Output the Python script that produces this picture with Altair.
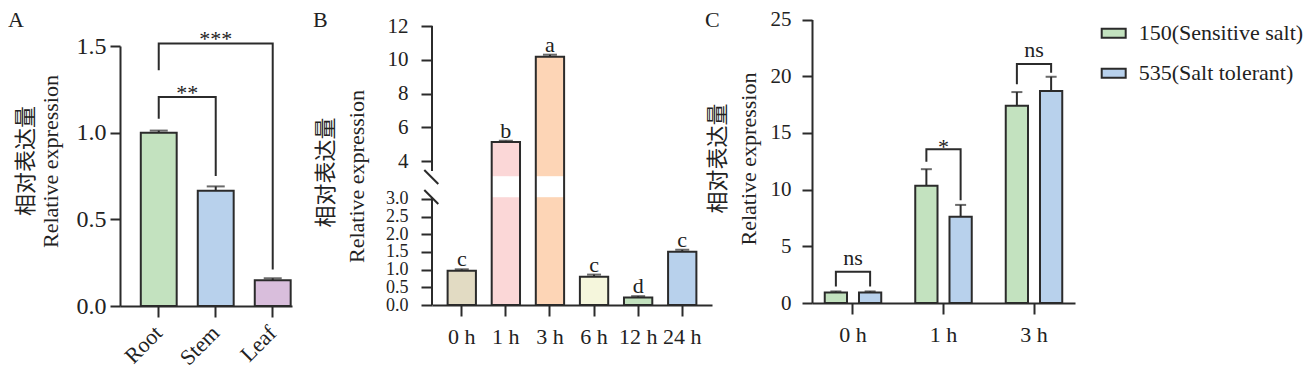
import altair as alt
import pandas as pd

FONT = "'Liberation Serif', serif"
CJK = "'Noto Sans CJK SC', sans-serif"
INK = "#2b2b2b"
TXT = "#222222"
TITLE_CN = "相对表达量"
TITLE_EN = "Relative expression"

# ---------------- Panel A data ----------------
tissues = ["Root", "Stem", "Leaf"]
tissue_mean = [1.0, 0.665, 0.148]
tissue_err = [0.012, 0.025, 0.012]
tissue_colors = ["#c3e2bf", "#b8d1ec", "#d9bedc"]
a_pairs = [("Root", "Stem"), ("Root", "Leaf")]
a_top = [1.206, 1.515]
a_left_end = [1.08, 1.36]
a_right_end = [0.75, 0.21]
a_marks = ["**", "***"]

# ---------------- Panel B data ----------------
times_b = ["0 h", "1 h", "3 h", "6 h", "12 h", "24 h"]
time_mean = [0.97, 5.12, 10.18, 0.80, 0.21, 1.51]
time_err = [0.04, 0.08, 0.12, 0.06, 0.04, 0.05]
time_letters = ["c", "b", "a", "c", "d", "c"]
time_colors = ["#e2dbc3", "#fbd7d7", "#fdd5b6", "#f5f6dc", "#c3e2bf", "#b8d1ec"]
BREAK_LO, BREAK_HI = 3.05, 3.1
b_axis_lower = [0, BREAK_LO]
b_axis_upper = [3.41, 12]
b_ticks = [0, 0.5, 1.0, 1.5, 2.0, 2.5, 3.0, 4, 6, 8, 10, 12]

# ---------------- Panel C data ----------------
times_c = ["0 h", "1 h", "3 h"]
lines = ["150(Sensitive salt)", "535(Salt tolerant)"]
sens_mean = [0.93, 10.35, 17.4]
sens_err = [0.09, 1.45, 1.2]
tol_mean = [0.93, 7.6, 18.7]
tol_err = [0.09, 1.05, 1.25]
line_colors = ["#c3e2bf", "#b8d1ec"]
c_top = [2.75, 13.55, 21.08]
c_left_end = [1.45, 12.45, 19.28]
c_right_end = [1.45, 9.05, 20.3]
c_marks = ["ns", "*", "ns"]


def panel_letter(letter, x, y):
    return alt.Chart(pd.DataFrame({"t": [letter]})).mark_text(
        align="left", baseline="middle", fontSize=22, color=TXT, font=FONT
    ).encode(x=alt.value(x), y=alt.value(y), text="t:N")


def cn_title(x, y):
    return alt.Chart(pd.DataFrame({"t": [TITLE_CN]})).mark_text(
        angle=270, align="center", baseline="middle", fontSize=22, color=TXT, font=CJK
    ).encode(x=alt.value(x), y=alt.value(y), text="t:N")


def ytitle_axis(**kw):
    base = dict(title=TITLE_EN, titleFont=FONT, titleFontSize=22,
                titleBaseline="alphabetic", titleAlign="center", titleAngle=270,
                titleFontWeight="normal", titleColor=TXT, labelFont=FONT,
                labelColor=TXT, tickWidth=2, labelOverlap=False)
    base.update(kw)
    return alt.Axis(**base)


# ======================= Panel A =======================
xa = alt.Scale(domain=tissues, range=[0, 172], paddingInner=0.37, paddingOuter=0.194, align=0.94)
ya = alt.Scale(domain=[0, 1.5], range=[291, 31], nice=False)
xaxA = alt.Axis(title=None, labelAngle=-45, labelAlign="right", labelBaseline="middle",
                labelPadding=12, labelFontSize=22, labelFont=FONT, labelColor=TXT,
                tickSize=11, tickWidth=2, domainWidth=2)
yaxA = ytitle_axis(values=[0, 0.5, 1.0, 1.5], format=".1f", tickSize=10, domainWidth=2,
                   labelPadding=4, labelFontSize=24, titleX=-63, titleY=146)
stepA = 172 / (3 - 0.37 + 2 * 0.194)


def XA(f):
    return alt.X(f, scale=xa, axis=xaxA)


def YA(f):
    return alt.Y(f, scale=ya, axis=yaxA)


dfA = pd.DataFrame({"tissue": tissues, "mean": tissue_mean, "err": tissue_err})
dfA["top"] = dfA["mean"] + dfA["err"]
baseA = alt.Chart(dfA)
barsA = baseA.mark_bar(stroke=INK, strokeWidth=2).encode(
    x=XA("tissue:N"), y=YA("mean:Q"),
    color=alt.Color("tissue:N", scale=alt.Scale(domain=tissues, range=tissue_colors), legend=None))
errA = baseA.mark_rule(color=INK, strokeWidth=2).encode(x=XA("tissue:N"), y=YA("mean:Q"), y2="top:Q")
capA = baseA.mark_tick(color=INK, thickness=2, size=18, orient="horizontal").encode(
    x=XA("tissue:N"), y=YA("top:Q"))

rows = []
for i, ((l, r), t, le, re) in enumerate(zip(a_pairs, a_top, a_left_end, a_right_end)):
    rows += [dict(id=i, o=0, x=l, y=le), dict(id=i, o=1, x=l, y=t),
             dict(id=i, o=2, x=r, y=t), dict(id=i, o=3, x=r, y=re)]
brA = alt.Chart(pd.DataFrame(rows)).mark_line(color=INK, strokeWidth=2).encode(
    x=XA("x:N"), y=YA("y:Q"), detail="id:N", order="o:Q")
labA = []
for (l, r), t, m in zip(a_pairs, a_top, a_marks):
    span = tissues.index(r) - tissues.index(l)
    labA.append(alt.Chart(pd.DataFrame({"x": [l], "y": [t], "t": [m]})).mark_text(
        dx=span * stepA / 2, dy=3, baseline="alphabetic", fontSize=22, color=TXT, font=FONT
    ).encode(x=XA("x:N"), y=YA("y:Q"), text="t:N"))

panelA = alt.layer(barsA, errA, capA, brA, *labA, cn_title(-94.5, 146),
                   panel_letter("A", -112, 5)).properties(width=212, height=291)

# ======================= Panel B =======================
xb = alt.Scale(domain=times_b, paddingInner=0.358, paddingOuter=0.354)
yb = alt.Scale(domain=[0, BREAK_LO, BREAK_HI, 12], range=[290, 182.2, 161.2, 11],
               nice=False, zero=False)
xaxB = alt.Axis(title=None, labelAngle=0, labelFontSize=22, labelPadding=10, labelFont=FONT,
                labelColor=TXT, tickSize=11, tickWidth=2, domainWidth=2)
yaxB = ytitle_axis(values=b_ticks, domain=False, tickSize=11, labelPadding=13,
                   labelFontSize={"condition": {"test": "datum.value < 3.5", "value": 18},
                                  "value": 21},
                   labelExpr="datum.value < 3.5 ? format(datum.value, '.1f') : format(datum.value, 'd')",
                   titleX=-68.5, titleY=161)


def XB(f):
    return alt.X(f, scale=xb, axis=xaxB)


def YB(f):
    return alt.Y(f, scale=yb, axis=yaxB)


dfB = pd.DataFrame({"time": times_b, "mean": time_mean, "err": time_err, "letter": time_letters})
dfB["top"] = dfB["mean"] + dfB["err"]
baseB = alt.Chart(dfB)
fillB = baseB.mark_bar().encode(
    x=XB("time:N"), y=YB("mean:Q"),
    color=alt.Color("time:N", scale=alt.Scale(domain=times_b, range=time_colors), legend=None))
gapB = baseB.transform_filter(f"datum.mean > {BREAK_HI}").transform_calculate(
    lo=str(BREAK_LO), hi=str(BREAK_HI)).mark_bar(color="white").encode(
    x=XB("time:N"), y=YB("lo:Q"), y2="hi:Q")
outB = baseB.mark_bar(fillOpacity=0, stroke=INK, strokeWidth=2).encode(x=XB("time:N"), y=YB("mean:Q"))
errB = baseB.mark_rule(color=INK, strokeWidth=2).encode(x=XB("time:N"), y=YB("mean:Q"), y2="top:Q")
capB = baseB.mark_tick(color=INK, thickness=2, size=14, orient="horizontal").encode(
    x=XB("time:N"), y=YB("top:Q"))
letB = baseB.mark_text(dy=-3, baseline="alphabetic", fontSize=22, color=TXT, font=FONT).encode(
    x=XB("time:N"), y=YB("top:Q"), text="letter:N")
segB = alt.Chart(pd.DataFrame({"y0": [b_axis_lower[0], b_axis_upper[0]],
                               "y1": [b_axis_lower[1], b_axis_upper[1]]})).mark_rule(
    color=INK, strokeWidth=2).encode(x=alt.value(0), y=YB("y0:Q"), y2="y1:Q")
one = pd.DataFrame({"k": [0]})
slash1 = alt.Chart(one).mark_rule(color=INK, strokeWidth=2).encode(
    x=alt.value(-7.7), x2=alt.value(6.3), y=alt.value(155), y2=alt.value(169))
slash2 = alt.Chart(one).mark_rule(color=INK, strokeWidth=2).encode(
    x=alt.value(-7.7), x2=alt.value(6.3), y=alt.value(175), y2=alt.value(189))

panelB = alt.layer(fillB, gapB, outB, errB, capB, letB, segB, slash1, slash2,
                   cn_title(-106, 157.5), panel_letter("B", -119, 5)).properties(
    width=280, height=290)

# ======================= Panel C =======================
xc = alt.Scale(domain=times_c, paddingInner=0.3, paddingOuter=0.103)
xoc = alt.Scale(domain=lines, paddingInner=0.35, paddingOuter=0.1)
yc = alt.Scale(domain=[0, 25], range=[288, 4.5], nice=False)
xaxC = alt.Axis(title=None, labelAngle=0, labelFontSize=22, labelPadding=10, labelFont=FONT,
                labelColor=TXT, tickSize=11, tickWidth=2, domainWidth=2)
yaxC = ytitle_axis(values=[0, 5, 10, 15, 20, 25], tickSize=10, domainWidth=2,
                   labelPadding=11, labelFontSize=21, titleX=-56.5, titleY=143.5)


def XC(f):
    return alt.X(f, scale=xc, axis=xaxC)


def YC(f):
    return alt.Y(f, scale=yc, axis=yaxC)


dfC = pd.DataFrame({
    "time": times_c * 2,
    "line": [lines[0]] * 3 + [lines[1]] * 3,
    "mean": sens_mean + tol_mean,
    "err": sens_err + tol_err,
})
dfC["top"] = dfC["mean"] + dfC["err"]
baseC = alt.Chart(dfC)
XO = alt.XOffset("line:N", scale=xoc)
barsC = baseC.mark_bar(stroke=INK, strokeWidth=2).encode(
    x=XC("time:N"), xOffset=XO, y=YC("mean:Q"),
    color=alt.Color("line:N", scale=alt.Scale(domain=lines, range=line_colors),
                    legend=alt.Legend(orient="none", legendX=288.7, legendY=5.2, title=None,
                                      symbolType="M-1,-0.375L1,-0.375L1,0.375L-1,0.375Z",
                                      symbolSize=576, symbolStrokeColor=INK,
                                      symbolStrokeWidth=2, symbolOpacity=1,
                                      labelFontSize=22, labelFont=FONT, labelColor=TXT,
                                      labelLimit=400, labelOffset=12, rowPadding=16,
                                      padding=0)))
errC = baseC.mark_rule(color=INK, strokeWidth=2).encode(
    x=XC("time:N"), xOffset=XO, y=YC("mean:Q"), y2="top:Q")
capC = baseC.mark_tick(color=INK, thickness=2, size=11, orient="horizontal").encode(
    x=XC("time:N"), xOffset=XO, y=YC("top:Q"))

rows = []
for i, (tm, t, le, re) in enumerate(zip(times_c, c_top, c_left_end, c_right_end)):
    rows += [dict(id=i, o=0, time=tm, line=lines[0], y=le),
             dict(id=i, o=1, time=tm, line=lines[0], y=t),
             dict(id=i, o=2, time=tm, line=lines[1], y=t),
             dict(id=i, o=3, time=tm, line=lines[1], y=re)]
brC = alt.Chart(pd.DataFrame(rows)).mark_line(color=INK, strokeWidth=2).encode(
    x=XC("time:N"), xOffset=XO, y=YC("y:Q"), detail="id:N", order="o:Q")
dfCl = pd.DataFrame({"time": times_c, "y": c_top, "t": c_marks})
nsC = alt.Chart(dfCl).transform_filter("datum.t == 'ns'").mark_text(
    dy=-7, baseline="alphabetic", fontSize=22, color=TXT, font=FONT).encode(
    x=XC("time:N"), y=YC("y:Q"), text="t:N")
starC = alt.Chart(dfCl).transform_filter("datum.t != 'ns'").mark_text(
    dy=5, baseline="alphabetic", fontSize=22, color=TXT, font=FONT).encode(
    x=XC("time:N"), y=YC("y:Q"), text="t:N")

panelC = alt.layer(barsC, errC, capC, brC, nsC, starC, cn_title(-94, 143.5),
                   panel_letter("C", -107, 5)).properties(width=263, height=288)

chart = alt.hconcat(panelA, panelB, panelC, spacing=100, bounds="flush").resolve_scale(
    color="independent").properties(
    padding={"left": 0, "top": 0, "right": 0, "bottom": 0}
).configure(font=FONT).configure_view(strokeWidth=0).configure_axis(
    labelFont=FONT, titleFont=FONT, labelColor=TXT, titleColor=TXT,
    domainColor=INK, tickColor=INK, grid=False
).configure_legend(labelFont=FONT, titleFont=FONT).configure_text(font=FONT)

chart.save("out.html", embed_options={"renderer": "svg", "actions": False})
